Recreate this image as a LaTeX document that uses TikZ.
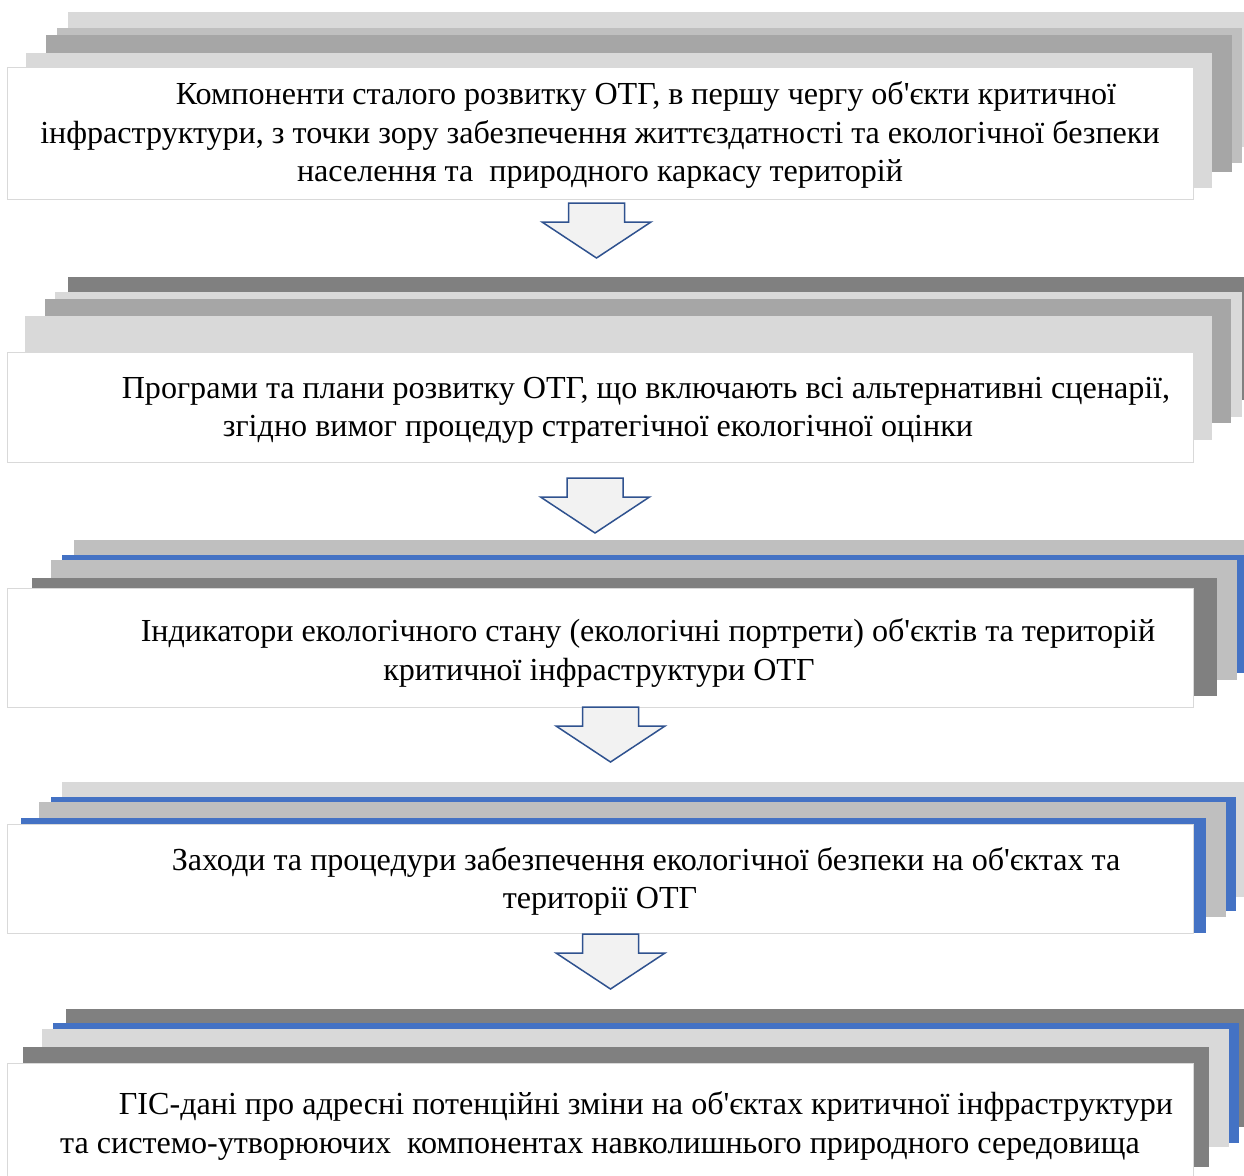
\documentclass[tikz,border=0pt]{standalone}
\usepackage{fontspec}
\setmainfont{Liberation Serif}
\definecolor{lg}{HTML}{D9D9D9}
\definecolor{mg}{HTML}{BFBFBF}
\definecolor{dg}{HTML}{A6A6A6}
\definecolor{vg}{HTML}{808080}
\definecolor{bl}{HTML}{4472C4}
\definecolor{arfill}{HTML}{F2F2F2}
\definecolor{arline}{HTML}{2F528F}
\newcommand\lyr[5]{\fill[#1] (#2,#3) rectangle (#4,#5);}
\newcommand\blockarrowdown[2]{%
  \draw[arrowshape] (#1-28,#2) -- (#1+28,#2) -- (#1+28,#2+19) -- (#1+54.5,#2+19)
    -- (#1,#2+55) -- (#1-54.5,#2+19) -- (#1-28,#2+19) -- cycle;}
\tikzset{
  frontbox/.style={fill=white, draw=lg, line width=1pt},
  arrowshape/.style={fill=arfill, draw=arline, line width=1.5pt, line join=miter},
  txt/.style={anchor=base, inner sep=0pt, font=\fontsize{32.1}{39}\selectfont, text=black},
}
\begin{document}
\begin{tikzpicture}[x=1pt,y=-1pt]
\useasboundingbox (0,0) rectangle (1244,1175);
\clip (0,0) rectangle (1244,1175);
% block 1
\lyr{lg}{68}{12}{1254}{147}
\lyr{mg}{57}{28}{1242}{163}
\lyr{dg}{46}{35}{1232}{172}
\lyr{lg}{26}{53}{1212}{188}
\node[frontbox, minimum width=1186pt, minimum height=132pt, anchor=north west, inner sep=0pt] (box1) at (7,67) {};
\node[txt] (t1a) at (646,104) {Компоненти сталого розвитку ОТГ, в першу чергу об\textquotesingle єкти критичної};
\node[txt] (t1b) at (600,143) {інфраструктури, з точки зору забезпечення життєздатності та екологічної безпеки};
\node[txt] (t1c) at (600,181) {населення та \ природного каркасу територій};
% block 2
\lyr{vg}{68}{277}{1254}{400}
\lyr{lg}{55}{292}{1242}{417}
\lyr{dg}{45}{299}{1231}{423}
\lyr{lg}{25}{316}{1212}{440}
\node[frontbox, minimum width=1186pt, minimum height=110pt, anchor=north west, inner sep=0pt] (box2) at (7,352) {};
\node[txt] (t2a) at (646,398) {Програми та плани розвитку ОТГ, що включають всі альтернативні сценарії,};
\node[txt] (t2b) at (598,436) {згідно вимог процедур стратегічної екологічної оцінки};
% block 3
\lyr{mg}{74}{540}{1260}{660}
\lyr{bl}{62}{555}{1250}{673}
\lyr{mg}{51}{560}{1237}{680}
\lyr{vg}{32}{578}{1217}{696}
\node[frontbox, minimum width=1186pt, minimum height=119pt, anchor=north west, inner sep=0pt] (box3) at (7,588) {};
\node[txt] (t3a) at (648,641) {Індикатори екологічного стану (екологічні портрети) об\textquotesingle єктів та територій};
\node[txt] (t3b) at (599,680) {критичної інфраструктури ОТГ};
% block 4
\lyr{lg}{62}{782}{1250}{897}
\lyr{bl}{51}{797}{1236}{911}
\lyr{mg}{39}{802}{1226}{917}
\lyr{bl}{21}{818}{1206}{933}
\node[frontbox, minimum width=1186pt, minimum height=109pt, anchor=north west, inner sep=0pt] (box4) at (7,824) {};
\node[txt] (t4a) at (646,870) {Заходи та процедури забезпечення екологічної безпеки на об\textquotesingle єктах та};
\node[txt] (t4b) at (600,908) {території ОТГ};
% block 5
\lyr{vg}{66}{1009}{1250}{1127}
\lyr{bl}{53}{1023}{1239}{1143}
\lyr{lg}{42}{1029}{1229}{1147}
\lyr{vg}{23}{1047}{1209}{1167}
\node[frontbox, minimum width=1186pt, minimum height=130pt, anchor=north west, inner sep=0pt] (box5) at (7,1063) {};
\node[txt] (t5a) at (646,1114) {ГІС-дані про адресні потенційні зміни на об\textquotesingle єктах критичної інфраструктури};
\node[txt] (t5b) at (600,1153) {та системо-утворюючих \ компонентах навколишнього природного середовища};
% arrows
\blockarrowdown{596.5}{203}
\blockarrowdown{595}{478}
\blockarrowdown{610.5}{707}
\blockarrowdown{610.5}{934}
\end{tikzpicture}
\end{document}
